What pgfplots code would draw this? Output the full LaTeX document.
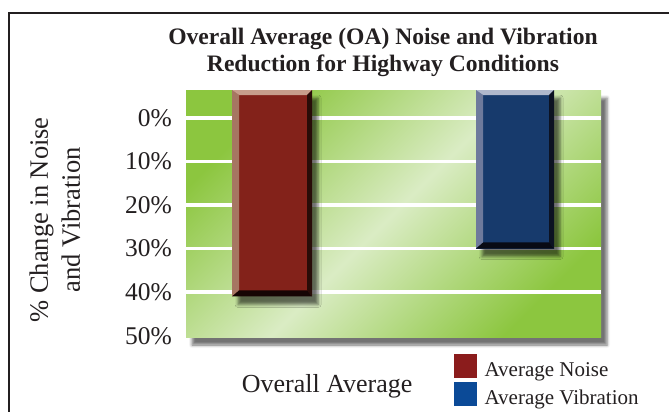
\documentclass[border=0pt]{standalone}
\usepackage{fontspec}
\setmainfont{Liberation Serif}
\usepackage{pgfplots}
\pgfplotsset{compat=1.18}
\usetikzlibrary{shadows.blur}
\definecolor{bggreen}{RGB}{140,198,63}
\definecolor{bglight}{RGB}{218,236,196}
\definecolor{redmain}{RGB}{131,34,26}
\definecolor{redleft}{RGB}{166,118,98}
\definecolor{redtop}{RGB}{200,158,140}
\definecolor{redright}{RGB}{40,12,8}
\definecolor{redbot}{RGB}{22,5,4}
\definecolor{bluemain}{RGB}{23,58,108}
\definecolor{blueleft}{RGB}{110,122,156}
\definecolor{bluetop}{RGB}{176,184,204}
\definecolor{blueright}{RGB}{12,18,34}
\definecolor{bluebot}{RGB}{8,10,20}
\definecolor{legred}{RGB}{139,28,28}
\definecolor{legblue}{RGB}{11,74,151}
\definecolor{txt}{RGB}{35,31,32}
\begin{document}
\begin{tikzpicture}[x=1pt,y=1pt]
\useasboundingbox (0,0) rectangle (669,412);
\draw[line width=2pt, txt] (9,0) -- (9,399) -- (670,399);
\node[anchor=base, text=txt, font=\bfseries\fontsize{23.6}{27}\selectfont] at (383,367) {Overall Average (OA) Noise and Vibration};
\node[anchor=base, text=txt, font=\bfseries\fontsize{23.6}{27}\selectfont] at (383,340) {Reduction for Highway Conditions};
\begin{axis}[
  at={(186pt,75pt)}, anchor=south west,
  width=415pt, height=247pt, scale only axis,
  xmin=0, xmax=1, ymin=-6.4, ymax=50.3, y dir=reverse,
  axis line style={draw=none},
  xtick=\empty,
  ytick={0,10,20,30,40},
  extra y ticks={50},
  extra y tick style={grid=none},
  ymajorgrids,
  grid style={white, line width=3.5pt},
  major tick length=0pt,
  /pgf/number format/assume math mode=true,
  yticklabel={\pgfmathprintnumber{\tick}\%},
  yticklabel style={font=\fontsize{25.5}{25}\selectfont, text=txt, inner sep=0pt, xshift=-14pt},
  axis background/.style={left color=bggreen, right color=bggreen, middle color=bglight, shading angle=45,
     blur shadow={shadow xshift=6pt, shadow yshift=-8pt, shadow blur radius=3pt, shadow opacity=55}},
  xlabel={Overall Average},
  every axis x label/.style={at={(axis description cs:0.34,-0.2255)}, anchor=base, font=\fontsize{26}{30}\selectfont, text=txt},
  ylabel={\% Change in Noise\\and Vibration},
  every axis y label/.style={at={(axis description cs:-0.3157,0.474)}, rotate=90, anchor=center, align=center, font=\fontsize{26.5}{32}\selectfont, text=txt},
  legend style={at={(axis description cs:0.6458,-0.0688)}, anchor=north west, draw=none, fill=none,
     font=\fontsize{21}{21}\selectfont, text=txt, inner sep=0pt, row sep=4pt,
     nodes={inner sep=0pt},
     /tikz/every odd column/.append style={column sep=8pt}},
  legend cell align=left,
]
% red bar: Average Noise = 41
\addplot[fill=redmain, draw=none, forget plot,
  blur shadow={shadow xshift=6pt, shadow yshift=-8pt, shadow blur radius=3pt, shadow opacity=55}]
  coordinates {(0.111,-6.4) (0.304,-6.4) (0.304,41) (0.111,41)} -- cycle;
\addplot[fill=redleft, draw=none, forget plot] coordinates {(0.111,-6.4) (0.128,-5.25) (0.128,39.6) (0.111,41)} -- cycle;
\addplot[fill=redtop, draw=none, forget plot] coordinates {(0.111,-6.4) (0.304,-6.4) (0.292,-5.25) (0.128,-5.25)} -- cycle;
\addplot[fill=redright, draw=none, forget plot] coordinates {(0.304,-6.4) (0.304,41) (0.292,39.6) (0.292,-5.25)} -- cycle;
\addplot[fill=redbot, draw=none, forget plot] coordinates {(0.111,41) (0.304,41) (0.292,39.6) (0.128,39.6)} -- cycle;
% blue bar: Average Vibration = 30
\addplot[fill=bluemain, draw=none, forget plot,
  blur shadow={shadow xshift=6pt, shadow yshift=-8pt, shadow blur radius=3pt, shadow opacity=55}]
  coordinates {(0.699,-6.4) (0.887,-6.4) (0.887,30) (0.699,30)} -- cycle;
\addplot[fill=blueleft, draw=none, forget plot] coordinates {(0.699,-6.4) (0.716,-5.25) (0.716,28.6) (0.699,30)} -- cycle;
\addplot[fill=bluetop, draw=none, forget plot] coordinates {(0.699,-6.4) (0.887,-6.4) (0.875,-5.25) (0.716,-5.25)} -- cycle;
\addplot[fill=blueright, draw=none, forget plot] coordinates {(0.887,-6.4) (0.887,30) (0.875,28.6) (0.875,-5.25)} -- cycle;
\addplot[fill=bluebot, draw=none, forget plot] coordinates {(0.699,30) (0.887,30) (0.875,28.6) (0.716,28.6)} -- cycle;
\addlegendimage{legend image code/.code={\fill[legred] (0pt,-7pt) rectangle (22pt,16pt);}}
\addlegendentry{Average Noise}
\addlegendimage{legend image code/.code={\fill[legblue] (0pt,-7pt) rectangle (22pt,16pt);}}
\addlegendentry{Average Vibration}
\end{axis}
\end{tikzpicture}
\end{document}
